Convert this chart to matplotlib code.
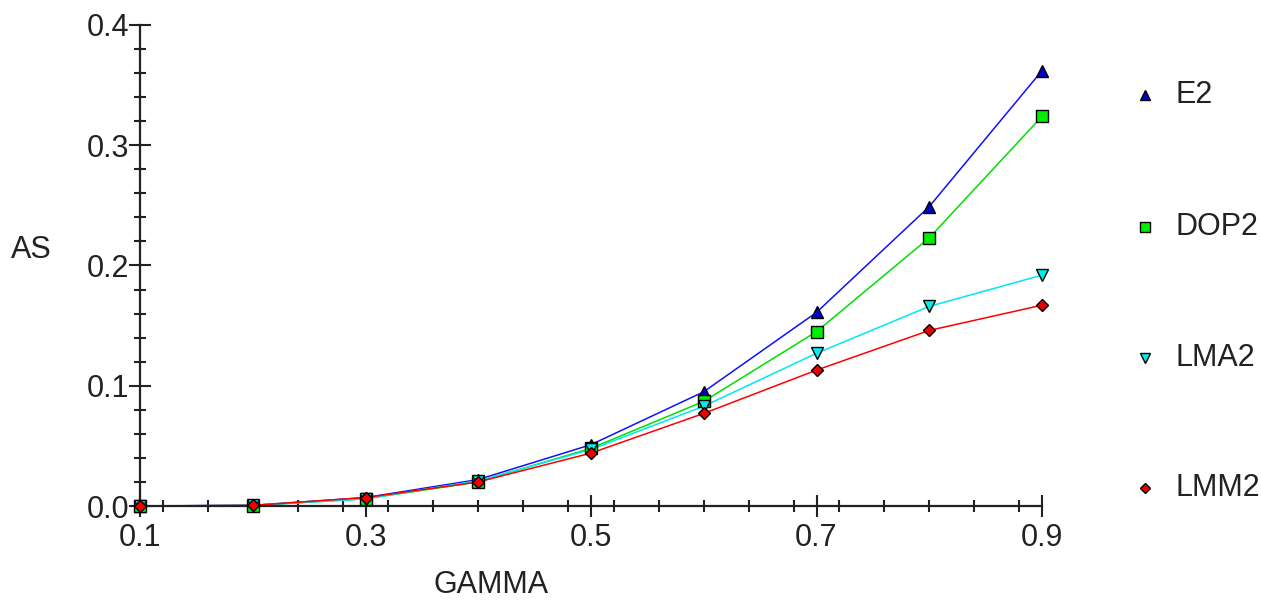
import numpy as np
import matplotlib
matplotlib.use('Agg')
from matplotlib import pyplot as plt
from matplotlib.ticker import MultipleLocator, FixedLocator

plt.rcParams['font.family'] = ['Liberation Sans', 'DejaVu Sans']

gamma = [0.1, 0.2, 0.3, 0.4, 0.5, 0.6, 0.7, 0.8, 0.9]
e2 = [0.0, 0.0006, 0.007, 0.022, 0.051, 0.095, 0.161, 0.249, 0.362]
dop2 = [0.0, 0.0004, 0.006, 0.020, 0.048, 0.087, 0.145, 0.223, 0.324]
lma2 = [0.0, 0.0005, 0.006, 0.021, 0.047, 0.083, 0.127, 0.166, 0.192]
lmm2 = [0.0, 0.0005, 0.007, 0.020, 0.044, 0.077, 0.113, 0.146, 0.167]

names = ['E2', 'DOP2', 'LMA2', 'LMM2']
series = [e2, dop2, lma2, lmm2]
colors = ['#1010ff', '#00e000', '#00e8f0', '#ff0000']
face = ['#0000cc', '#00ee00', '#00eeee', '#ee0000']
markers = ['^', 's', 'v', 'D']
msizes = [8, 8, 8, 6]

fig = plt.figure(figsize=(12.61, 6.07), dpi=100)
ax = fig.add_axes([140/1261, 101/607, 902/1261, 481/607])

handles = []
for vals, c, fc, m, ms, n in zip(series, colors, face, markers, msizes, names):
    ax.plot(gamma, vals, color=c, lw=1.1, clip_on=False, zorder=2)
    h, = ax.plot(gamma, vals, ls='none', marker=m, ms=ms, mfc=fc, mec='black',
                 mew=1.0, clip_on=False, zorder=3, label=n)
    handles.append(h)

ax.set_xlim(0.1, 0.9)
ax.set_ylim(0, 0.4)
ax.xaxis.set_major_locator(FixedLocator([0.1, 0.3, 0.5, 0.7, 0.9]))
ax.xaxis.set_minor_locator(MultipleLocator(0.04))
ax.yaxis.set_major_locator(MultipleLocator(0.1))
ax.yaxis.set_minor_locator(MultipleLocator(0.02))
ax.xaxis.set_major_formatter(plt.FuncFormatter(lambda v, p: '%.1f' % v))
ax.yaxis.set_major_formatter(plt.FuncFormatter(lambda v, p: '%.1f' % v))

for s in ['top', 'right']:
    ax.spines[s].set_visible(False)
for s in ['left', 'bottom']:
    ax.spines[s].set_linewidth(1.6)
    ax.spines[s].set_color('#222222')

ax.tick_params(which='major', direction='inout', length=16, width=1.5,
               colors='#222222', labelsize=22)
ax.tick_params(which='minor', direction='inout', length=8, width=1.5,
               colors='#222222')
ax.tick_params(axis='x', which='major', pad=4)
ax.tick_params(axis='y', which='major', pad=0)

fig.text(31/1261, 1 - 250/607, 'AS', fontsize=22, color='#222222',
         ha='center', va='center')
fig.text(491/1261, 1 - 585/607, 'GAMMA', fontsize=22, color='#222222',
         ha='center', va='center')

leg_y = [95, 227, 358, 488]
for h, n, y in zip(handles, names, leg_y):
    fig.lines.append(plt.Line2D([1145/1261], [1 - y/607], transform=fig.transFigure,
                                ls='none', marker=h.get_marker(), ms=h.get_markersize() - 1,
                                mfc=h.get_markerfacecolor(), mec='black', mew=1.0))
    fig.text(1176/1261, 1 - y/607, n, fontsize=22, color='#222222',
             ha='left', va='center')

fig.savefig('out.png', dpi=100)
